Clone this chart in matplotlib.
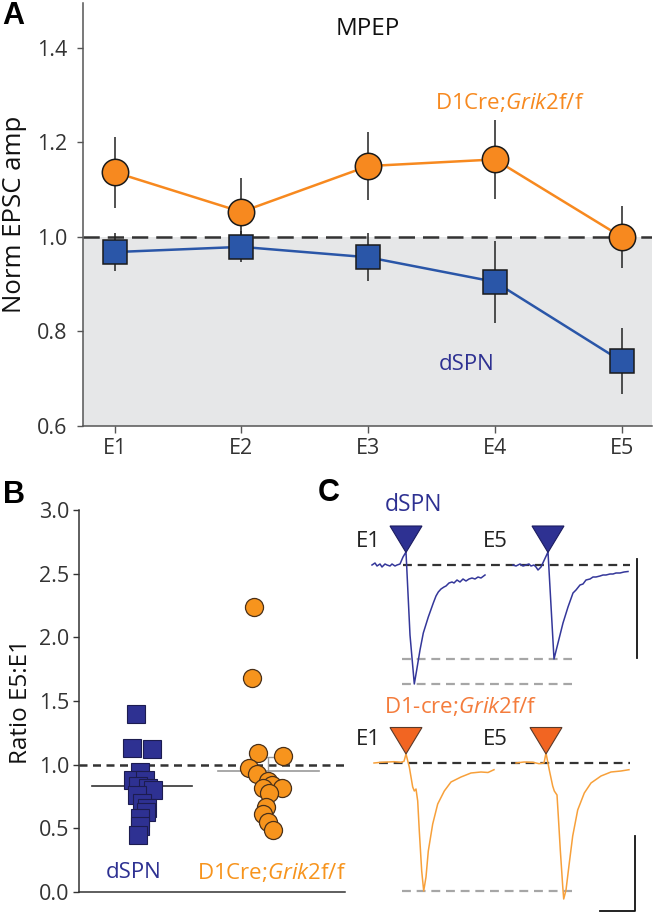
import numpy as np
import matplotlib
matplotlib.use('Agg')
import matplotlib.pyplot as plt

plt.rcParams['font.family'] = ['Open Sans', 'DejaVu Sans']
plt.rcParams['mathtext.fontset'] = 'custom'
plt.rcParams['mathtext.rm'] = 'Open Sans'
plt.rcParams['mathtext.it'] = 'Open Sans:italic'

# ---------------- data ----------------
# panel A: normalized EPSC amplitude per stimulus (mean, sem)
stims = ['E1', 'E2', 'E3', 'E4', 'E5']
ko_mean = [1.137, 1.053, 1.150, 1.164, 1.000]
ko_sem = [0.075, 0.072, 0.071, 0.083, 0.065]
dspn_mean = [0.968, 0.979, 0.957, 0.905, 0.737]
dspn_sem = [0.040, 0.033, 0.051, 0.087, 0.070]

# panel B: E5:E1 ratios, individual cells (x = swarm position)
dspn_ratio = [1.40, 1.13, 1.12, 0.94, 0.88, 0.88, 0.83, 0.82, 0.80, 0.76, 0.70, 0.66, 0.63, 0.58, 0.52, 0.45]
dspn_x = [0.95, 0.92, 1.08, 0.98, 0.93, 1.02, 0.97, 1.05, 1.09, 0.96, 1.00, 1.04, 1.03, 0.98, 0.98, 0.97]
ko_ratio = [2.24, 1.68, 1.09, 1.07, 0.97, 0.93, 0.87, 0.84, 0.82, 0.82, 0.78, 0.67, 0.61, 0.55, 0.49]
ko_x = [1.89, 1.87, 1.92, 2.12, 1.85, 1.91, 2.00, 2.03, 1.96, 2.11, 2.01, 1.98, 1.96, 2.00, 2.04]
ratio_mean = [0.83, 0.95]
ratio_sem = [0.06, 0.11]

# panel C: example traces (t in ms from stim, current in pA from baseline)
t_b1 = [-34, -31, -29, -26, -24, -21, -19, -16, -14, -11, -9, -6, -3, 0, 4, 8.3, 10.7, 14, 17.3, 22.3, 27.3,
        30, 32.3, 35, 38, 40, 43, 46, 48, 51, 54, 57, 60, 63, 66, 69, 72, 75, 79]
i_b1 = [0, 2, -1, 1, -2, 1, 0, -1, 1, -1, 0, 1, 8, 13, -70, -119, -105, -85, -68, -52, -38,
        -31, -27, -24, -22, -21, -18, -17, -18, -15, -17, -14, -16, -14, -13, -14, -12, -13, -10]
t_b5 = [-35, -32, -28, -25, -22, -19, -17, -14, -12, -10, -7, 0, 6, 10, 15, 20, 25, 28, 32, 35, 38,
        42, 45, 48, 52, 55, 58, 62, 65, 68, 72, 76, 80]
i_b5 = [0, -1, 1, -1, 0, 1, -1, 0, -2, -5, -2, 13, -94, -78, -58, -42, -28, -25, -20, -19, -15,
        -14, -12, -12, -11, -10, -10, -9, -9, -8, -8, -7, -6.5]
t_o1 = [-32, -25, -18, -12, -5, -2, 0, 3.3, 6.7, 8.3, 10, 11.7, 13.3, 15.7, 17.7, 20, 22.3, 26.7,
        31.7, 38.3, 45, 55, 65, 75, 82, 88]
i_o1 = [0, 0.7, 1, 1.3, 0.7, 1.7, 9, -4, -24, -28, -26, -38, -68, -108, -128, -114, -88, -61,
        -41, -28, -19, -14, -10, -9, -9.5, -6.7]
t_o5 = [-30, -22, -13, -7, -2, 0, 3.3, 6.7, 8.3, 11, 12.3, 14.3, 16.7, 17.7, 20, 23.3, 26.7, 31.7,
        38.3, 45, 55, 65, 75, 83]
i_o5 = [0, 1, 0.7, -0.7, 0, 10, -7, -23, -28, -32, -53, -87, -123, -136, -127, -100, -73, -47,
        -30, -20, -13, -9, -8, -6.7]

orange = '#f7891f'
blue_a = '#2a56a8'
navy = '#2e3192'
grey_txt = '#333333'

fig = plt.figure(figsize=(6.56, 9.13), dpi=100)
W, H = 656.0, 913.0

# ---------------- panel A ----------------
axA = fig.add_axes([83 / W, 1 - 426 / H, (652 - 83) / W, (426 - 3) / H])
x = np.arange(len(stims))
axA.axhspan(0.6, 1.0, color='#e6e7e8', lw=0, zorder=0)
l = axA.axhline(1.0, color='#333333', lw=1.8, zorder=1)
l.set_dashes((6.5, 3.2))
axA.plot(x, ko_mean, color=orange, lw=1.8, zorder=3)
axA.plot(x, dspn_mean, color=blue_a, lw=1.8, zorder=3)
axA.errorbar(x, ko_mean, yerr=ko_sem, fmt='none', ecolor='#222222', elinewidth=1.1, zorder=4)
axA.errorbar(x, dspn_mean, yerr=dspn_sem, fmt='none', ecolor='#222222', elinewidth=1.1, zorder=4)
axA.plot(x, ko_mean, 'o', ms=19, mfc=orange, mec='#1a1a1a', mew=1.1, zorder=5)
axA.plot(x, dspn_mean, 's', ms=17, mfc=blue_a, mec='#1a1a1a', mew=1.1, zorder=5)
axA.set_xlim(-0.25, 4.24)
axA.set_ylim(0.6, 1.495)
axA.set_yticks([0.6, 0.8, 1.0, 1.2, 1.4])
axA.set_yticklabels(['0.6', '0.8', '1.0', '1.2', '1.4'])
axA.set_xticks(x)
axA.set_xticklabels(stims)
for s in ['top', 'right']:
    axA.spines[s].set_visible(False)
for s in ['left', 'bottom']:
    axA.spines[s].set_color('#555555')
    axA.spines[s].set_linewidth(1.1)
axA.tick_params(axis='y', length=4.5, width=1, color='#555555', labelsize=15.5, labelcolor=grey_txt, pad=7)
axA.tick_params(axis='x', length=5, width=1, color='#555555', labelsize=15.5, labelcolor=grey_txt, pad=4)
axA.set_ylabel('Norm EPSC amp', fontsize=18.5, color='#111111', labelpad=7)
axA.text(2.0, 1.44, 'MPEP', fontsize=17.5, ha='center', va='center', color='#111111')
axA.text(3.12, 1.284, r'D1Cre;$\mathit{Grik2}$f/f', fontsize=16, ha='center', va='center', color=orange)
axA.text(2.78, 0.73, 'dSPN', fontsize=16, ha='center', va='center', color=navy)

# ---------------- panel B ----------------
axB = fig.add_axes([79 / W, 1 - 892 / H, (345 - 79) / W, (892 - 510) / H])
l = axB.axhline(1.0, color='#333333', lw=1.8, zorder=1)
l.set_dashes((3.2, 2.2))
axB.plot([0.6, 1.4], [ratio_mean[0]] * 2, color='#333333', lw=1.2, zorder=2)
axB.plot([1.6, 2.4], [ratio_mean[1]] * 2, color='#999999', lw=1.2, zorder=2)
axB.errorbar([1.0, 2.0], ratio_mean, yerr=ratio_sem, fmt='none', ecolor='#999999',
             elinewidth=1, capsize=4, capthick=1, zorder=2)
axB.plot(dspn_x, dspn_ratio, 's', ms=12.5, mfc=navy, mec='#1c1c50', mew=0.8, zorder=3)
axB.plot(ko_x, ko_ratio, 'o', ms=13, mfc='#f7941d', mec='#4a3018', mew=0.9, zorder=3)
axB.set_xlim(0.5, 2.61)
axB.set_ylim(0, 3.0)
axB.set_yticks([0, 0.5, 1.0, 1.5, 2.0, 2.5, 3.0])
axB.set_yticklabels(['0.0', '0.5', '1.0', '1.5', '2.0', '2.5', '3.0'])
axB.set_xticks([])
for s in ['top', 'right']:
    axB.spines[s].set_visible(False)
for s in ['left', 'bottom']:
    axB.spines[s].set_color('#333333')
    axB.spines[s].set_linewidth(1.1)
axB.tick_params(axis='y', length=4, width=1, color='#333333', labelsize=15.5, labelcolor=grey_txt, pad=3)
axB.set_ylabel('Ratio E5:E1', fontsize=17.5, color='#111111', labelpad=4)
axB.text(0.93, 0.15, 'dSPN', fontsize=16, ha='center', va='center', color=navy)
axB.text(2.03, 0.15, r'D1Cre;$\mathit{Grik2}$f/f', fontsize=16, ha='center', va='center',
         color='#f7941d', clip_on=False)

# ---------------- panel C ----------------
axC = fig.add_axes([340 / W, 0, 316 / W, 413 / H])
axC.set_xlim(-66, 250)
axC.set_ylim(-348, 65)
axC.axis('off')

groups = [
    dict(t1=t_b1, i1=i_b1, t5=t_b5, i5=i_b5, base=0, stim5=142, col='#34379a',
         tri='#2e3192', tri_edge='#1c1c60', apex=12.5),
    dict(t1=t_o1, i1=i_o1, t5=t_o5, i5=i_o5, base=-198, stim5=140, col='#f7a03a',
         tri='#f26522', tri_edge='#5a3a2a', apex=9),
]
for g in groups:
    b = g['base']
    # baseline
    l, = axC.plot([-3 if b == 0 else -27, 224], [b, b], color='#333333', lw=1.6, zorder=1)
    l.set_dashes((4, 2.6))
    # peak levels
    peaks = [min(g['i1'])] if b != 0 else [min(g['i1']), min(g['i5'])]
    for p in peaks:
        l, = axC.plot([-4, 166], [b + p, b + p], color='#a6a6a6', lw=1.6, zorder=1)
        l.set_dashes((4, 2.6))
    axC.plot(np.array(g['t1']), np.array(g['i1']) + b, color=g['col'], lw=1.1, zorder=2)
    axC.plot(np.array(g['t5']) + g['stim5'], np.array(g['i5']) + b, color=g['col'], lw=1.1, zorder=2)
    for s0 in [0, g['stim5']]:
        ap = b + g['apex']
        axC.fill([s0 - 16, s0 + 16, s0], [ap + 26.5, ap + 26.5, ap], color=g['tri'],
                 ec=g['tri_edge'], lw=0.8, zorder=3)
    axC.text(-38, b + 24, 'E1', fontsize=16, ha='center', va='center', color='#222222')
    axC.text(89, b + 24, 'E5', fontsize=16, ha='center', va='center', color='#222222')

axC.text(8, 60, 'dSPN', fontsize=16.5, ha='center', va='center', color=navy)
axC.text(55, -141, r'D1-cre;$\mathit{Grik2}$f/f', fontsize=16, ha='center', va='center', color='#f47c3c')
# scale bars
axC.plot([231, 231], [6, -93], color='#111111', lw=1.3)
axC.plot([194, 229, 229], [-345.5, -345.5, -270.5], color='#111111', lw=1.3)

# panel letters
fig.text(2 / W, 1 - 16 / H, 'A', fontsize=22, fontweight='bold', family='Liberation Sans', va='center')
fig.text(3 / W, 1 - 495 / H, 'B', fontsize=22, fontweight='bold', family='Liberation Sans', va='center')
fig.text(318 / W, 1 - 493 / H, 'C', fontsize=22, fontweight='bold', family='Liberation Sans', va='center')

fig.savefig('out.png', dpi=100)
